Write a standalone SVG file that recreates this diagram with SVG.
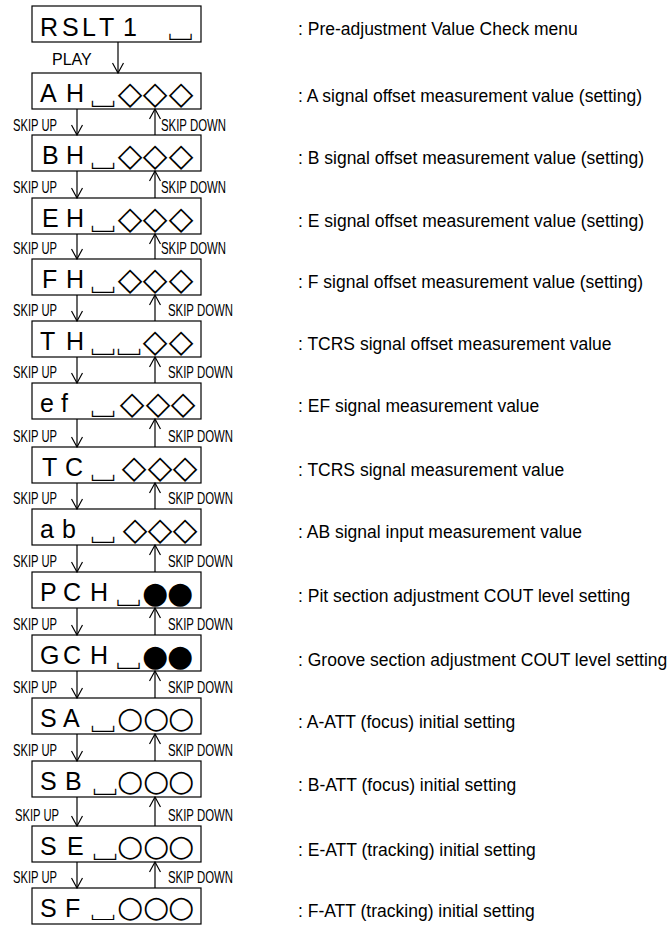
<svg xmlns="http://www.w3.org/2000/svg" width="669" height="925" viewBox="0 0 669 925">
<style>
.box{fill:#fff;stroke:#000;stroke-width:1.2}
.big{font-family:"Liberation Sans",Arial,sans-serif;font-size:25px;fill:#000}
.sym{font-family:"DejaVu Sans",sans-serif;fill:#000;text-anchor:middle}
.dia{font-size:32px}
.cir{font-size:30px}
.spc{font-family:"Noto Sans CJK JP","DejaVu Sans",sans-serif;font-size:30px;fill:#000;text-anchor:middle}
.desc{font-family:"Liberation Sans",Arial,sans-serif;font-size:17.5px;fill:#000}
.lab{font-family:"Liberation Sans",Arial,sans-serif;font-size:16px;fill:#000}
.con line{stroke:#000;stroke-width:1.2;fill:none}
.dn{marker-end:url(#ah)}
</style>
<defs>
<marker id="ah" viewBox="0 0 12 12" refX="11" refY="6" markerWidth="12" markerHeight="12" markerUnits="userSpaceOnUse" orient="auto">
<path d="M1,0.5 L11,6 L1,11.5" fill="none" stroke="#000" stroke-width="1.2"/>
</marker>
</defs>

<g id="n0"><rect class="box" x="32" y="6" width="169" height="36"/><text class="big" x="40 62 82 99 123" y="36">RSLT1</text><text class="spc" x="180.5" y="36">␣</text><text class="desc" x="298" y="35">: Pre-adjustment Value Check menu</text></g>

<g id="n1"><rect class="box" x="32" y="73" width="169" height="36"/><text class="big" x="40 66" y="102">AH</text><text class="spc" x="103" y="103">␣</text><text class="sym dia" x="130 155 181" y="104">◇◇◇</text><text class="desc" x="298" y="102">: A signal offset measurement value (setting)</text></g>

<g id="n2"><rect class="box" x="32" y="135" width="169" height="36"/><text class="big" x="42 66" y="164">BH</text><text class="spc" x="103" y="165">␣</text><text class="sym dia" x="130 155 181" y="166">◇◇◇</text><text class="desc" x="298" y="164">: B signal offset measurement value (setting)</text></g>

<g id="n3"><rect class="box" x="32" y="198" width="169" height="36"/><text class="big" x="42 66" y="227">EH</text><text class="spc" x="103" y="228">␣</text><text class="sym dia" x="130 155 181" y="229">◇◇◇</text><text class="desc" x="298" y="227">: E signal offset measurement value (setting)</text></g>

<g id="n4"><rect class="box" x="32" y="259" width="169" height="36"/><text class="big" x="42 66" y="288">FH</text><text class="spc" x="103" y="289">␣</text><text class="sym dia" x="130 155 181" y="290">◇◇◇</text><text class="desc" x="298" y="288">: F signal offset measurement value (setting)</text></g>

<g id="n5"><rect class="box" x="32" y="321" width="169" height="36"/><text class="big" x="40 66" y="350">TH</text><text class="spc" x="103 129" y="351">␣␣</text><text class="sym dia" x="155 181" y="352">◇◇</text><text class="desc" x="298" y="350">: TCRS signal offset measurement value</text></g>

<g id="n6"><rect class="box" x="32" y="383" width="169" height="36"/><text class="big" x="40 61" y="412">ef</text><text class="spc" x="103" y="413">␣</text><text class="sym dia" x="132 158 183" y="414">◇◇◇</text><text class="desc" x="298" y="412">: EF signal measurement value</text></g>

<g id="n7"><rect class="box" x="32" y="447" width="169" height="36"/><text class="big" x="42 65" y="476">TC</text><text class="spc" x="103" y="477">␣</text><text class="sym dia" x="134 160 185" y="478">◇◇◇</text><text class="desc" x="298" y="476">: TCRS signal measurement value</text></g>

<g id="n8"><rect class="box" x="32" y="509" width="169" height="36"/><text class="big" x="40 62" y="538">ab</text><text class="spc" x="103" y="539">␣</text><text class="sym dia" x="135 160 185" y="540">◇◇◇</text><text class="desc" x="298" y="538">: AB signal input measurement value</text></g>

<g id="n9"><rect class="box" x="32" y="572" width="169" height="36"/><text class="big" x="40 63 90" y="601">PCH</text><text class="spc" x="128.5" y="602">␣</text><text class="sym cir" x="155 180" y="603">●●</text><text class="desc" x="298" y="602">: Pit section adjustment COUT level setting</text></g>

<g id="n10"><rect class="box" x="32" y="635" width="169" height="36"/><text class="big" x="40 63 90" y="664">GCH</text><text class="spc" x="128.5" y="665">␣</text><text class="sym cir" x="155 180" y="666">●●</text><text class="desc" x="298" y="666">: Groove section adjustment COUT level setting</text></g>

<g id="n11"><rect class="box" x="32" y="698" width="169" height="36"/><text class="big" x="40 63" y="727">SA</text><text class="spc" x="103" y="728">␣</text><text class="sym cir" x="130 156 181" y="728">○○○</text><text class="desc" x="298" y="728">: A-ATT (focus) initial setting</text></g>

<g id="n12"><rect class="box" x="32" y="761" width="169" height="36"/><text class="big" x="40 65" y="790">SB</text><text class="spc" x="105" y="791">␣</text><text class="sym cir" x="130 156 181" y="791">○○○</text><text class="desc" x="298" y="791">: B-ATT (focus) initial setting</text></g>

<g id="n13"><rect class="box" x="32" y="826" width="169" height="36"/><text class="big" x="40 67" y="855">SE</text><text class="spc" x="105" y="856">␣</text><text class="sym cir" x="130 156 181" y="856">○○○</text><text class="desc" x="298" y="856">: E-ATT (tracking) initial setting</text></g>

<g id="n14"><rect class="box" x="32" y="888" width="169" height="36"/><text class="big" x="40 65" y="917">SF</text><text class="spc" style="font-size:25px" transform="translate(103,917) scale(1.2,1)" x="0" y="0">␣</text><text class="sym cir" x="130 156 181" y="917">○○○</text><text class="desc" x="298" y="917">: F-ATT (tracking) initial setting</text></g>

<g id="connectors" class="con">
<line class="dn" x1="118" y1="42" x2="118" y2="73"/>
<text class="lab" x="52" y="65">PLAY</text>

<line class="dn" x1="77" y1="109" x2="77" y2="135"/><line class="dn" x1="155" y1="135" x2="155" y2="109"/>
<text class="lab" x="13" y="131" textLength="44" lengthAdjust="spacingAndGlyphs">SKIP UP</text><text class="lab" x="161" y="131" textLength="65" lengthAdjust="spacingAndGlyphs">SKIP DOWN</text>

<line class="dn" x1="77" y1="171" x2="77" y2="198"/><line class="dn" x1="155" y1="198" x2="155" y2="171"/>
<text class="lab" x="13" y="193" textLength="44" lengthAdjust="spacingAndGlyphs">SKIP UP</text><text class="lab" x="161" y="193" textLength="65" lengthAdjust="spacingAndGlyphs">SKIP DOWN</text>

<line class="dn" x1="77" y1="234" x2="77" y2="259"/><line class="dn" x1="155" y1="259" x2="155" y2="234"/>
<text class="lab" x="13" y="254" textLength="44" lengthAdjust="spacingAndGlyphs">SKIP UP</text><text class="lab" x="161" y="254" textLength="65" lengthAdjust="spacingAndGlyphs">SKIP DOWN</text>

<line class="dn" x1="77" y1="295" x2="77" y2="321"/><line class="dn" x1="155" y1="321" x2="155" y2="295"/>
<text class="lab" x="13" y="316" textLength="44" lengthAdjust="spacingAndGlyphs">SKIP UP</text><text class="lab" x="168" y="316" textLength="65" lengthAdjust="spacingAndGlyphs">SKIP DOWN</text>

<line class="dn" x1="77" y1="357" x2="77" y2="383"/><line class="dn" x1="155" y1="383" x2="155" y2="357"/>
<text class="lab" x="13" y="378" textLength="44" lengthAdjust="spacingAndGlyphs">SKIP UP</text><text class="lab" x="168" y="378" textLength="65" lengthAdjust="spacingAndGlyphs">SKIP DOWN</text>

<line class="dn" x1="77" y1="419" x2="77" y2="447"/><line class="dn" x1="155" y1="447" x2="155" y2="419"/>
<text class="lab" x="13" y="442" textLength="44" lengthAdjust="spacingAndGlyphs">SKIP UP</text><text class="lab" x="168" y="442" textLength="65" lengthAdjust="spacingAndGlyphs">SKIP DOWN</text>

<line class="dn" x1="77" y1="483" x2="77" y2="509"/><line class="dn" x1="155" y1="509" x2="155" y2="483"/>
<text class="lab" x="13" y="504" textLength="44" lengthAdjust="spacingAndGlyphs">SKIP UP</text><text class="lab" x="168" y="504" textLength="65" lengthAdjust="spacingAndGlyphs">SKIP DOWN</text>

<line class="dn" x1="77" y1="545" x2="77" y2="572"/><line class="dn" x1="155" y1="572" x2="155" y2="545"/>
<text class="lab" x="13" y="567" textLength="44" lengthAdjust="spacingAndGlyphs">SKIP UP</text><text class="lab" x="168" y="567" textLength="65" lengthAdjust="spacingAndGlyphs">SKIP DOWN</text>

<line class="dn" x1="77" y1="608" x2="77" y2="635"/><line class="dn" x1="155" y1="635" x2="155" y2="608"/>
<text class="lab" x="13" y="630" textLength="44" lengthAdjust="spacingAndGlyphs">SKIP UP</text><text class="lab" x="168" y="630" textLength="65" lengthAdjust="spacingAndGlyphs">SKIP DOWN</text>

<line class="dn" x1="77" y1="671" x2="77" y2="698"/><line class="dn" x1="155" y1="698" x2="155" y2="671"/>
<text class="lab" x="13" y="693" textLength="44" lengthAdjust="spacingAndGlyphs">SKIP UP</text><text class="lab" x="168" y="693" textLength="65" lengthAdjust="spacingAndGlyphs">SKIP DOWN</text>

<line class="dn" x1="77" y1="734" x2="77" y2="761"/><line class="dn" x1="155" y1="761" x2="155" y2="734"/>
<text class="lab" x="13" y="756" textLength="44" lengthAdjust="spacingAndGlyphs">SKIP UP</text><text class="lab" x="168" y="756" textLength="65" lengthAdjust="spacingAndGlyphs">SKIP DOWN</text>

<line class="dn" x1="77" y1="797" x2="77" y2="826"/><line class="dn" x1="155" y1="826" x2="155" y2="797"/>
<text class="lab" x="15" y="821" textLength="44" lengthAdjust="spacingAndGlyphs">SKIP UP</text><text class="lab" x="168" y="821" textLength="65" lengthAdjust="spacingAndGlyphs">SKIP DOWN</text>

<line class="dn" x1="77" y1="862" x2="77" y2="888"/><line class="dn" x1="155" y1="888" x2="155" y2="862"/>
<text class="lab" x="13" y="883" textLength="44" lengthAdjust="spacingAndGlyphs">SKIP UP</text><text class="lab" x="168" y="883" textLength="65" lengthAdjust="spacingAndGlyphs">SKIP DOWN</text>
</g>
</svg>
